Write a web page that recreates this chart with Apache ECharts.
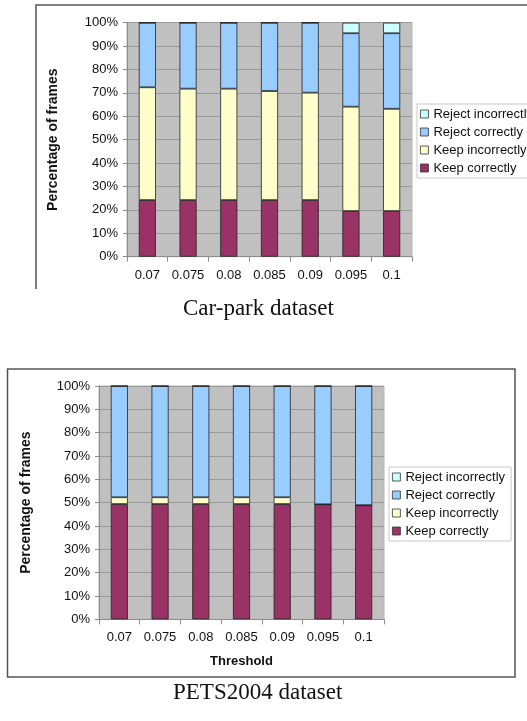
<!DOCTYPE html>
<html>
<head>
<meta charset="utf-8">
<script src="https://cdn.jsdelivr.net/npm/echarts@6/dist/echarts.min.js"></script>
<style>
  html, body { margin: 0; padding: 0; background: #fff; }
  #chart { width: 527px; height: 721px; }
</style>
</head>
<body>
<div id="chart"></div>
<script>
// Threshold values shared by both datasets
const thresholds = ['0.07', '0.075', '0.08', '0.085', '0.09', '0.095', '0.1'];
const yTicks = [0, 10, 20, 30, 40, 50, 60, 70, 80, 90, 100];

// Car-park dataset (percentage of frames)
const carKeepCorrectly     = [24.2, 24.2, 24.2, 24.2, 24.2, 19.5, 19.5];
const carKeepIncorrectly   = [48.2, 47.6, 47.6, 46.6, 45.9, 44.6, 43.7];
const carRejectCorrectly   = [27.6, 28.2, 28.2, 29.2, 29.9, 31.4, 32.3];
const carRejectIncorrectly = [0, 0, 0, 0, 0, 4.5, 4.5];

// PETS2004 dataset (percentage of frames)
const petsKeepCorrectly     = [49.4, 49.4, 49.4, 49.4, 49.4, 49.3, 48.9];
const petsKeepIncorrectly   = [2.9, 2.9, 2.9, 2.9, 2.9, 0, 0];
const petsRejectCorrectly   = [47.7, 47.7, 47.7, 47.7, 47.7, 50.7, 51.1];
const petsRejectIncorrectly = [0, 0, 0, 0, 0, 0, 0];

const seriesNames = ['Keep correctly', 'Keep incorrectly', 'Reject correctly', 'Reject incorrectly'];
const seriesColors = ['#993366', '#ffffcc', '#99ccff', '#ccffff'];

const FONT = '"Liberation Sans", Arial, Helvetica, sans-serif';
const SERIF = '"Liberation Serif", "Times New Roman", serif';

function makeSeries(values, idx, stackName) {
  return values.map((data, i) => ({
    name: seriesNames[i],
    type: 'bar',
    stack: stackName,
    xAxisIndex: idx,
    yAxisIndex: idx,
    barWidth: '42%',
    data: data,
    itemStyle: { color: seriesColors[i], borderColor: '#222', borderWidth: 0.8 },
    emphasis: { disabled: true }
  }));
}

function xAxis(idx, withName) {
  return {
    type: 'category',
    gridIndex: idx,
    data: thresholds,
    boundaryGap: true,
    axisLine: { lineStyle: { color: '#8c8c8c', width: 1 } },
    axisTick: { show: true, length: 5, interval: 0, lineStyle: { color: '#8c8c8c' } },
    axisLabel: { interval: 0, color: '#111', fontFamily: FONT, fontSize: 13, margin: 12 },
    name: withName ? 'Threshold' : '',
    nameLocation: 'middle',
    nameGap: 36,
    nameTextStyle: { color: '#111', fontFamily: FONT, fontSize: 13, fontWeight: 'bold' }
  };
}

function yAxis(idx, gap) {
  return {
    type: 'value',
    gridIndex: idx,
    min: yTicks[0],
    max: yTicks[yTicks.length - 1],
    interval: yTicks[1] - yTicks[0],
    axisLine: { show: true, lineStyle: { color: '#8c8c8c' } },
    axisTick: { show: true, length: 4, lineStyle: { color: '#8c8c8c' } },
    axisLabel: { color: '#111', fontFamily: FONT, fontSize: 13, margin: 9, formatter: '{value}%' },
    splitLine: { show: true, lineStyle: { color: '#9a9a9a', width: 1 } },
    name: 'Percentage of frames',
    nameLocation: 'middle',
    nameGap: gap,
    nameRotate: 90,
    nameTextStyle: { color: '#111', fontFamily: FONT, fontSize: 14, fontWeight: 'bold' }
  };
}

function legend(idx, left, top) {
  return {
    show: true,
    orient: 'vertical',
    left: left,
    top: top,
    data: seriesNames.slice().reverse().map(n => ({ name: n })),
    icon: 'rect',
    itemWidth: 8,
    itemHeight: 8,
    itemGap: 4,
    padding: [3, 6, 3, 3],
    backgroundColor: '#fff',
    borderColor: '#c8c8c8',
    borderWidth: 1,
    selectedMode: false,
    textStyle: { color: '#111', fontFamily: FONT, fontSize: 13, lineHeight: 14 },
    itemStyle: { borderColor: '#333', borderWidth: 0.8 }
  };
}

const chart = echarts.init(document.getElementById('chart'), null, { renderer: 'canvas' });

const option = {
  animation: false,
  backgroundColor: '#fff',
  grid: [
    { left: 127, top: 22.7, width: 285, height: 234, show: true, backgroundColor: '#c0c0c0', borderColor: '#b8b8b8', borderWidth: 1 },
    { left: 99, top: 386, width: 285, height: 233.3, show: true, backgroundColor: '#c0c0c0', borderColor: '#b8b8b8', borderWidth: 1 }
  ],
  xAxis: [xAxis(0, false), xAxis(1, true)],
  yAxis: [yAxis(0, 67), yAxis(1, 66)],
  legend: [legend(0, 417, 104), legend(1, 389, 467)],
  series: [].concat(
    makeSeries([carKeepCorrectly, carKeepIncorrectly, carRejectCorrectly, carRejectIncorrectly], 0, 'car'),
    makeSeries([petsKeepCorrectly, petsKeepIncorrectly, petsRejectCorrectly, petsRejectIncorrectly], 1, 'pets')
  ),
  graphic: [
    // frame around the car-park figure (open on the right and bottom)
    { type: 'polyline', silent: true, shape: { points: [[36, 289], [36, 5], [527, 5]] },
      style: { stroke: '#555', lineWidth: 1.5, fill: null } },
    // frame around the PETS2004 figure
    { type: 'rect', silent: true, shape: { x: 7.5, y: 369, width: 507.5, height: 308 },
      style: { stroke: '#555', lineWidth: 1.5, fill: null } },
    { type: 'text', silent: true, style: {
        text: 'Car-park dataset', font: '23px ' + SERIF, fill: '#111' },
      top: 297, left: 183 },
    { type: 'text', silent: true, style: {
        text: 'PETS2004 dataset', font: '23px ' + SERIF, fill: '#111' },
      top: 681, left: 173 }
  ]
};

chart.setOption(option);
</script>
</body>
</html>
